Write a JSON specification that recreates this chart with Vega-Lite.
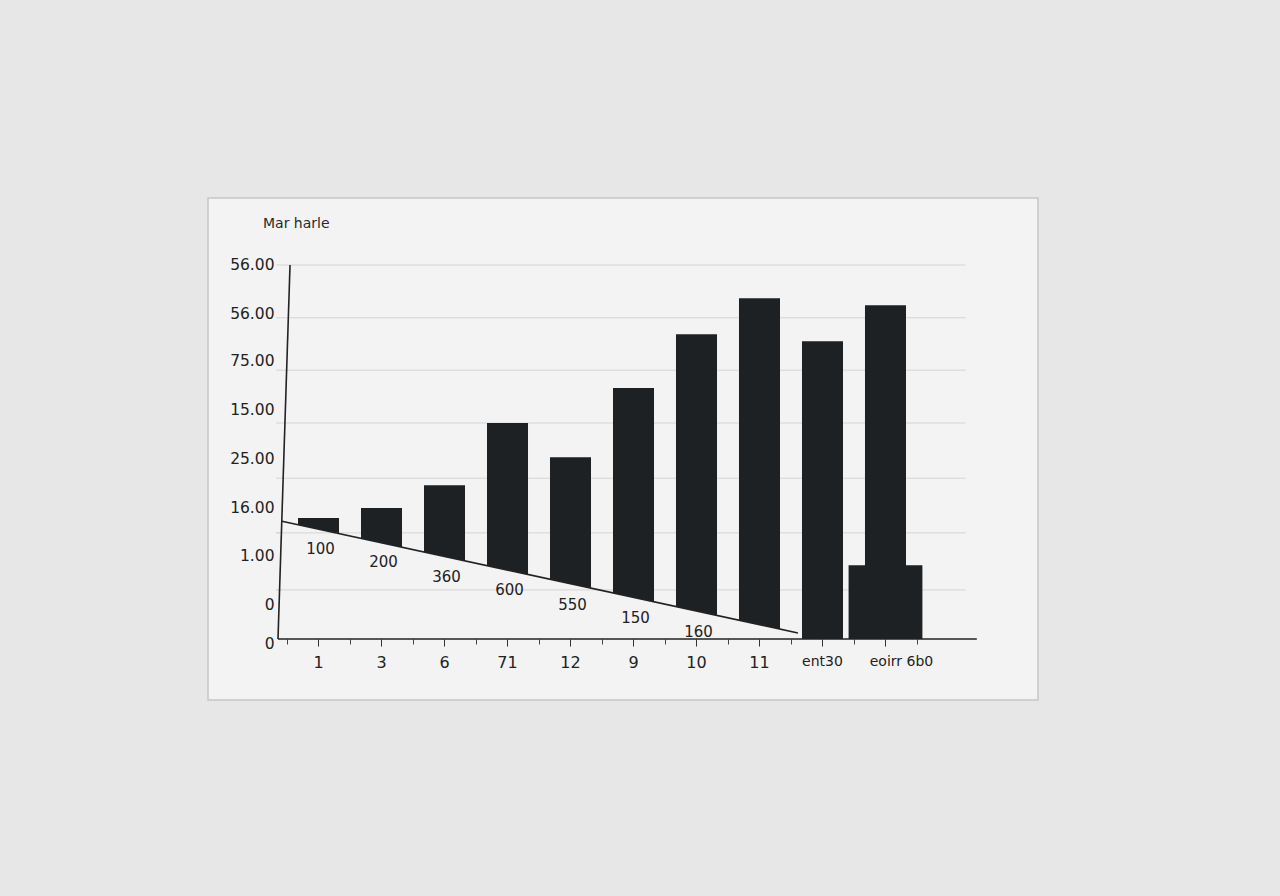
{
  "$schema": "https://vega.github.io/schema/vega-lite/v6.json",
  "autosize": {"type": "none"},
  "padding": {"left": 208, "top": 198, "right": 242, "bottom": 196},
  "width": 830,
  "height": 502,
  "background": "#e7e7e8",
  "title": {
    "text": "Mar harle",
    "anchor": "start",
    "dx": 55,
    "dy": 37,
    "fontSize": 14,
    "fontWeight": "normal",
    "font": "DejaVu Sans",
    "color": "#2a2a2a"
  },
  "config": {
    "view": {"fill": "#f3f3f3", "stroke": "#c6c6c6", "strokeWidth": 1.5},
    "font": "DejaVu Sans"
  },
  "datasets": {
    "bars": [
      {"cat": "1", "value": 2.59, "base": null, "note": "100", "noteLevel": 1.93},
      {"cat": "3", "value": 2.8, "base": null, "note": "200", "noteLevel": 1.65},
      {"cat": "6", "value": 3.29, "base": null, "note": "360", "noteLevel": 1.33},
      {"cat": "71", "value": 4.62, "base": null, "note": "600", "noteLevel": 1.05},
      {"cat": "12", "value": 3.89, "base": null, "note": "550", "noteLevel": 0.73},
      {"cat": "9", "value": 5.37, "base": null, "note": "150", "noteLevel": 0.45},
      {"cat": "10", "value": 6.52, "base": null, "note": "160", "noteLevel": 0.15},
      {"cat": "11", "value": 7.29, "base": null, "note": null, "noteLevel": null},
      {"cat": "ent30", "value": 6.37, "base": null, "note": null, "noteLevel": null},
      {"cat": "eoirr 6b0", "value": 7.14, "base": 1.58, "note": null, "noteLevel": null}
    ],
    "grid": [
      {"level": 8.0},
      {"level": 6.87},
      {"level": 5.75},
      {"level": 4.62},
      {"level": 3.44},
      {"level": 2.27},
      {"level": 1.05}
    ],
    "gridInside": [
      {"level": 2.27, "from": 0.33, "to": 1.3},
      {"level": 1.05, "from": 0.33, "to": 5.47}
    ],
    "slope": [
      {"pos": 0.42, "level": 2.52},
      {"pos": 8.61, "level": 0.13}
    ]
  },
  "layer": [
    {
      "data": {"name": "grid"},
      "mark": {"type": "rule", "color": "#d4d4d4", "strokeWidth": 1},
      "encoding": {
        "x": {"datum": 0.33, "type": "quantitative", "scale": {"domain": [-0.754, 12.421], "nice": false, "zero": false}, "axis": null},
        "x2": {"datum": 11.27},
        "y": {"field": "level", "type": "quantitative", "title": null, "scale": {"domain": [-1.305, 9.433], "nice": false, "zero": false}}
      }
    },
    {
      "data": {"name": "bars"},
      "mark": {"type": "bar", "color": "#1e2124"},
      "encoding": {
        "x": {
          "field": "cat",
          "type": "nominal",
          "sort": null,
          "title": null,
          "scale": {
            "domain": ["1", "3", "6", "71", "12", "9", "10", "11", "ent30", "eoirr 6b0"],
            "range": [90, 698],
            "paddingInner": 0.349,
            "paddingOuter": 0
          },
          "axis": {
            "orient": "bottom",
            "offset": -61,
            "domain": false,
            "ticks": true,
            "tickSize": 7,
            "tickColor": "#333333",
            "labelAngle": 0,
            "labelPadding": 8,
            "labelFontSize": {"condition": {"test": "indexof(['ent30', 'eoirr 6b0'], datum.value) >= 0", "value": 14}, "value": 16},
            "labelOffset": {"condition": {"test": "datum.value === 'eoirr 6b0'", "value": 16}, "value": 0},
            "labelColor": "#222222",
            "grid": false
          }
        },
        "y": {
          "field": "value",
          "type": "quantitative",
          "title": null,
          "axis": {
            "orient": "left",
            "offset": -77,
            "values": [-0.09, 0.73, 1.78, 2.82, 3.87, 4.9, 5.95, 6.97, 8],
            "labelExpr": "datum.value < 0 ? '0' : datum.value < 1 ? '0' : datum.value < 2 ? '1.00' : datum.value < 3 ? '16.00' : datum.value < 4 ? '25.00' : datum.value < 5 ? '15.00' : datum.value < 6 ? '75.00' : datum.value < 7 ? '56.00' : '56.00'",
            "domain": false,
            "ticks": false,
            "grid": false,
            "labelPadding": 11,
            "labelFontSize": 15.5,
            "labelColor": "#222222"
          }
        }
      }
    },
    {
      "data": {"name": "bars"},
      "mark": {"type": "bar", "color": "#1e2124", "width": {"band": 1.8}},
      "encoding": {
        "x": {
          "field": "cat",
          "type": "nominal",
          "sort": null,
          "scale": {
            "domain": ["1", "3", "6", "71", "12", "9", "10", "11", "ent30", "eoirr 6b0"],
            "range": [90, 698],
            "paddingInner": 0.349,
            "paddingOuter": 0
          },
          "axis": null
        },
        "y": {"field": "base", "type": "quantitative", "title": null}
      }
    },
    {
      "data": {"name": "slope"},
      "mark": {"type": "area", "color": "#f3f3f3", "opacity": 1},
      "encoding": {
        "x": {"field": "pos", "type": "quantitative", "scale": {"domain": [-0.754, 12.421], "nice": false, "zero": false}, "axis": null},
        "y": {"field": "level", "type": "quantitative", "title": null}
      }
    },
    {
      "data": {"name": "gridInside"},
      "mark": {"type": "rule", "color": "#d4d4d4", "strokeWidth": 1},
      "encoding": {
        "x": {"field": "from", "type": "quantitative", "scale": {"domain": [-0.754, 12.421], "nice": false, "zero": false}, "axis": null},
        "x2": {"field": "to"},
        "y": {"field": "level", "type": "quantitative", "title": null}
      }
    },
    {
      "data": {"name": "slope"},
      "mark": {"type": "line", "color": "#222222", "strokeWidth": 1.6},
      "encoding": {
        "x": {"field": "pos", "type": "quantitative", "scale": {"domain": [-0.754, 12.421], "nice": false, "zero": false}, "axis": null},
        "y": {"field": "level", "type": "quantitative", "title": null}
      }
    },
    {
      "data": {"values": [{"axis": "y"}]},
      "mark": {"type": "rule", "color": "#222222", "strokeWidth": 1.6},
      "encoding": {
        "x": {"datum": 0.548, "type": "quantitative", "scale": {"domain": [-0.754, 12.421], "nice": false, "zero": false}, "axis": null},
        "x2": {"datum": 0.357},
        "y": {"datum": 8.0, "type": "quantitative", "title": null},
        "y2": {"datum": 0}
      }
    },
    {
      "data": {"values": [{"axis": "x"}]},
      "mark": {"type": "rule", "color": "#222222", "strokeWidth": 1.6},
      "encoding": {
        "x": {"datum": 0.357, "type": "quantitative", "scale": {"domain": [-0.754, 12.421], "nice": false, "zero": false}, "axis": null},
        "x2": {"datum": 11.45},
        "y": {"datum": 0, "type": "quantitative", "title": null}
      }
    },
    {
      "data": {"name": "bars"},
      "mark": {"type": "text", "fontSize": 15, "color": "#222222", "dx": 2},
      "encoding": {
        "x": {
          "field": "cat",
          "type": "nominal",
          "sort": null,
          "title": null,
          "scale": {
            "domain": ["1", "3", "6", "71", "12", "9", "10", "11", "ent30", "eoirr 6b0"],
            "range": [79, 709],
            "paddingInner": 0,
            "paddingOuter": 0
          },
          "axis": {
            "orient": "bottom",
            "offset": -61,
            "domain": false,
            "labels": false,
            "ticks": true,
            "tickBand": "extent",
            "tickSize": 5,
            "tickColor": "#444444",
            "grid": false
          }
        },
        "y": {"field": "noteLevel", "type": "quantitative", "title": null},
        "text": {"field": "note", "type": "nominal"}
      }
    }
  ],
  "resolve": {"scale": {"x": "independent"}}
}
